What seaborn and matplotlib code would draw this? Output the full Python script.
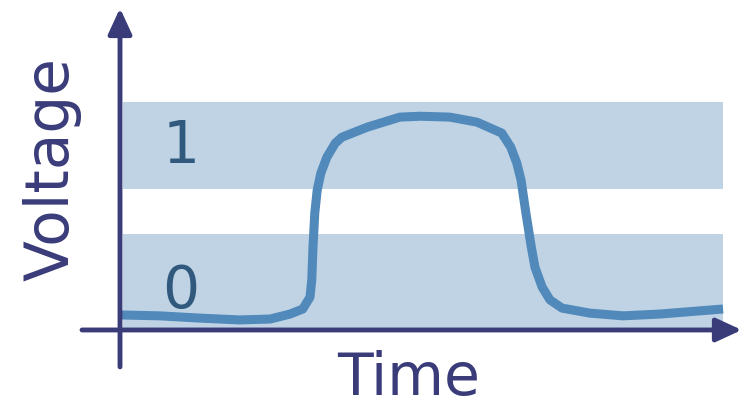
import numpy as np
import pandas as pd
import matplotlib
matplotlib.use("Agg")
import matplotlib.pyplot as plt
import seaborn as sns

# =============================================================================
# DATA
# =============================================================================
# time (arbitrary units) and measured voltage of one pulse
time = [0.00, 0.66, 1.33, 1.99, 2.49, 2.82, 3.03, 3.15, 3.18, 3.20, 3.23,
        3.27, 3.33, 3.43, 3.57, 3.68, 4.10, 4.64, 4.98, 5.47, 5.92, 6.33,
        6.48, 6.58, 6.65, 6.73, 6.82, 6.88, 7.00, 7.13, 7.33, 7.79, 8.34,
        8.96, 9.62, 10.0]
voltage = [0.33, 0.31, 0.26, 0.22, 0.24, 0.35, 0.46, 0.72, 1.10, 1.82, 2.57,
           3.07, 3.44, 3.79, 4.10, 4.23, 4.45, 4.67, 4.69, 4.67, 4.56, 4.32,
           4.01, 3.66, 3.29, 2.57, 1.82, 1.38, 0.94, 0.66, 0.48, 0.37, 0.31,
           0.35, 0.42, 0.46]

# logic level bands (low / high) and their labels
band_low = [0.0, 2.1]
band_high = [3.1, 5.0]
band_labels = ["0", "1"]
t_end = 10.0

# colours
band_color = "#BFD3E5"
line_color = "#5089BA"
axis_color = "#3A3C7A"
digit_color = "#30597D"

df = pd.DataFrame({"Time": time, "Voltage": voltage})

# =============================================================================
# PLOT
# =============================================================================
sns.set_theme(style="white")
plt.rcParams["font.family"] = ["DejaVu Sans"]

fig = plt.figure(figsize=(7.49, 4.07), dpi=100)
ax = fig.add_axes([0, 0, 1, 1])
ax.set_xlim(-1.99, 10.43)
ax.set_ylim(-1.69, 7.24)
ax.axis("off")

# level bands
for lo, hi in (band_low, band_high):
    ax.fill_between([0.05, t_end], lo, hi, color=band_color, lw=0, zorder=1)

# band labels
ax.text(1.01, 0.48, band_labels[0], fontsize=42, color=digit_color,
        ha="center", va="baseline", zorder=2)
ax.text(1.01, 3.66, band_labels[1], fontsize=42, color=digit_color,
        ha="center", va="baseline", zorder=2)

# signal
sns.lineplot(data=df, x="Time", y="Voltage", ax=ax, color=line_color,
             lw=6.5, sort=False, zorder=3,
             solid_joinstyle="round", solid_capstyle="butt")

# axes with arrow heads
arrow = dict(arrowstyle="-|>,head_length=1.3,head_width=0.6", color=axis_color,
             lw=3.5, shrinkA=0, shrinkB=0)
ax.annotate("", xy=(10.31, 0.0), xytext=(-0.63, 0.0), arrowprops=arrow, zorder=4)
ax.annotate("", xy=(0.0, 7.06), xytext=(0.0, -0.81), arrowprops=arrow, zorder=4)

# axis titles
ax.text(4.78, -1.42, "Time", fontsize=42, color=axis_color,
        ha="center", va="baseline")
ax.text(-1.13, 3.53, "Voltage", fontsize=43, color=axis_color,
        ha="center", va="center", rotation=90)

fig.savefig("out.png", dpi=100)
